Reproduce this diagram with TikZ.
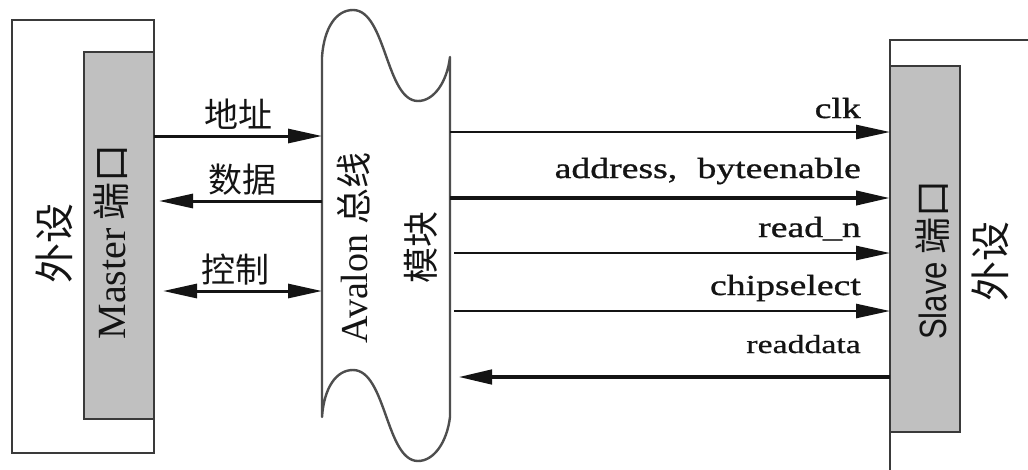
\documentclass[tikz,border=0pt]{standalone}
\usepackage{fontspec}
\setmainfont{Liberation Serif}
\newfontfamily\cjk{Noto Sans CJK SC}
\newfontfamily\sigfont[FakeStretch=1.3, FakeBold=1]{Liberation Serif}
\newfontfamily\sigfontlight[FakeStretch=1.3, FakeBold=0.5]{Liberation Serif}
\newfontfamily\portsans{Liberation Sans}
\usetikzlibrary{arrows.meta}

\definecolor{portgray}{HTML}{C0C0C0}
\definecolor{edge}{HTML}{3A3A3A}
\definecolor{ink}{HTML}{141414}

\tikzset{
  box/.style={draw=edge, line width=2.6pt, fill=white, rectangle,
    inner sep=0pt, outer sep=0pt, anchor=north west},
  portbox/.style={box, fill=portgray},
  busline/.style={draw=edge!90, line width=2.4pt, fill=white, line join=round},
  sig/.style={draw=ink, line width=2.6pt, -{Triangle[length=34pt, width=14pt]}},
  sigthick/.style={sig, line width=4pt},
  sigtext/.style={text=ink, inner sep=0pt, anchor=base east,
    font=\sigfont\fontsize{29}{30}\selectfont},
  cjktext/.style={text=ink, inner sep=0pt, anchor=base,
    font=\cjk\fontsize{34}{36}\selectfont},
  vtext/.style={text=ink, inner sep=0pt, rotate=90, anchor=center},
}

\begin{document}
\begin{tikzpicture}[x=1pt, y=-1pt]
  \clip (0,0) rectangle (1028,469);
  \fill[white] (0,0) rectangle (1028,469);

  % master peripheral and its port
  \node[box, minimum width=142, minimum height=433] (mper) at (12,20) {};
  \node[portbox, minimum width=70, minimum height=367] (mport) at (84,52) {};
  \node[vtext, font=\cjk\fontsize{40}{42}\selectfont] (mpertext) at (54,243) {外设};
  \node[vtext] (mporttext) at (111,242)
    {\fontsize{40}{42}\selectfont Master\hspace{8pt}\cjk\fontsize{38}{40}\selectfont 端口};

  % slave peripheral and its port
  \node[box, minimum width=200, minimum height=500] (sper) at (890,40) {};
  \node[portbox, minimum width=70, minimum height=366] (sport) at (890,66) {};
  \node[vtext] (sporttext) at (933,260)
    {\scalebox{0.82}[1]{\portsans\fontsize{38}{40}\selectfont Slave}\hspace{8pt}{\cjk\fontsize{37}{40}\selectfont 端口}};
  \node[vtext, font=\cjk\fontsize{40}{42}\selectfont] (spertext) at (990,261) {外设};

  % Avalon bus module outline (wavy top and bottom)
  \node[minimum width=128, minimum height=360, inner sep=0pt, outer sep=0pt,
        anchor=north west] (bus) at (322,57) {};
  \path[busline] (322,57) .. controls (324,28) and (336,10) .. (353,10)
    .. controls (386,10) and (386,101) .. (418,101)
    .. controls (434,101) and (447,82) .. (450,57)
    -- (450,417)
    .. controls (447,442) and (434,461) .. (418,461)
    .. controls (386,461) and (386,370) .. (353,370)
    .. controls (336,370) and (324,388) .. (322,417) -- cycle;
  \node[vtext] (bustext) at (354,248)
    {\fontsize{38}{40}\selectfont Avalon\hspace{10pt}\cjk\fontsize{36}{38}\selectfont 总线};
  \node[vtext, font=\cjk\fontsize{36}{38}\selectfont] (bustext2) at (421,247) {模块};

  % signal rows
  \coordinate (r1) at (0,136);
  \coordinate (r2) at (0,201);
  \coordinate (r3) at (0,291);
  \coordinate (r4) at (0,132);
  \coordinate (r5) at (0,198);
  \coordinate (r6) at (0,253);
  \coordinate (r7) at (0,311);
  \coordinate (r8) at (0,377);

  % master side
  \draw[sig, line width=3pt] (mport.east |- r1) -- (bus.west |- r1);
  \draw[sig, line width=3pt] (bus.west |- r2) -- ([xshift=5pt]mport.east |- r2);
  \draw[sig, line width=3pt, {Triangle[length=34pt, width=14pt]}-{Triangle[length=34pt, width=14pt]}]
    ([xshift=9pt]mport.east |- r3) -- (bus.west |- r3);
  \node[cjktext] (laddr) at (238,127) {地址};
  \node[cjktext] (ldata) at (242,192) {数据};
  \node[cjktext] (lctrl) at (235,282) {控制};

  % slave side
  \draw[sig] (bus.east |- r4) -- (sport.west |- r4);
  \draw[sigthick] (bus.east |- r5) -- (sport.west |- r5);
  \draw[sig] ([xshift=4pt]bus.east |- r6) -- (sport.west |- r6);
  \draw[sig] ([xshift=4pt]bus.east |- r7) -- (sport.west |- r7);
  \draw[sigthick, line width=4.5pt] (sport.west |- r8) -- ([xshift=8pt]bus.east |- r8);
  \node[sigtext] (tclk) at (861,118) {clk};
  \node[sigtext] (taddr) at (861,178) {address,\hspace{0.7em}byteenable};
  \node[sigtext] (tread) at (861,237) {read\_n};
  \node[sigtext] (tcs) at (861,295) {chipselect};
  \node[sigtext, font=\sigfontlight\fontsize{26}{28}\selectfont] (trd) at (861,353) {readdata};
\end{tikzpicture}
\end{document}
